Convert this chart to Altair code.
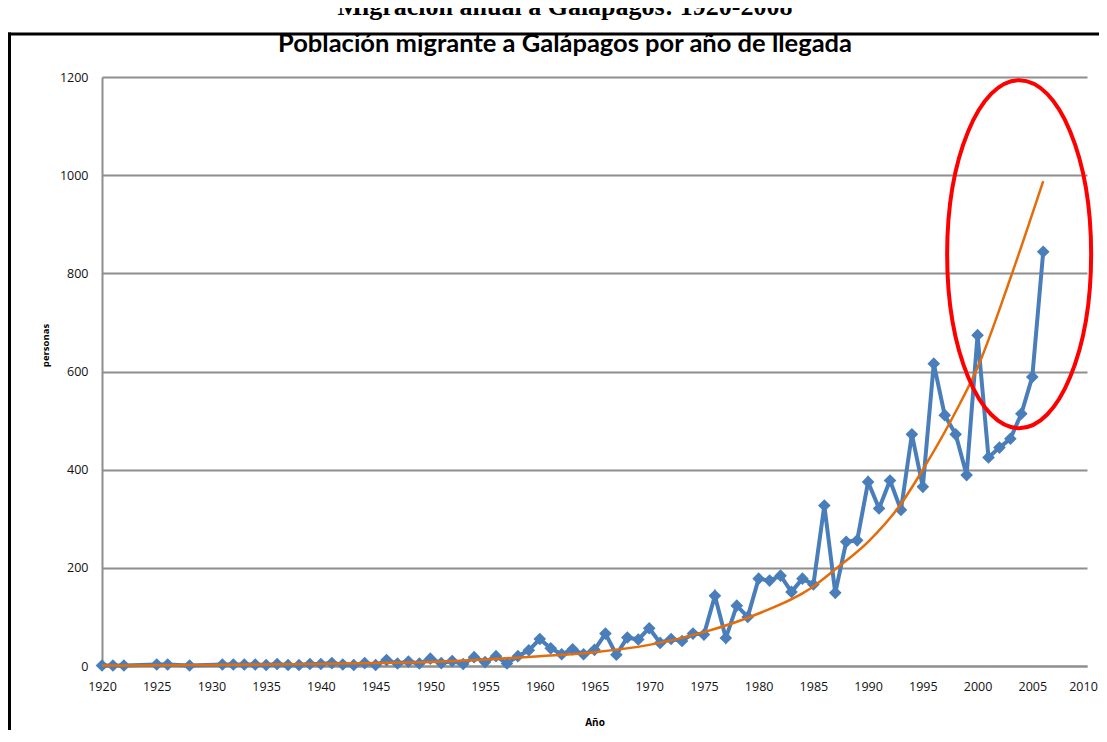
import altair as alt
import pandas as pd

# ---- data ----
years = [1920, 1921, 1922, 1925, 1926, 1928, 1931, 1932, 1933, 1934, 1935, 1936,
         1937, 1938, 1939, 1940, 1941, 1942, 1943, 1944, 1945, 1946, 1947, 1948,
         1949, 1950, 1951, 1952, 1953, 1954, 1955, 1956, 1957, 1958, 1959, 1960,
         1961, 1962, 1963, 1964, 1965, 1966, 1967, 1968, 1969, 1970, 1971, 1972,
         1973, 1974, 1975, 1976, 1977, 1978, 1979, 1980, 1981, 1982, 1983, 1984,
         1985, 1986, 1987, 1988, 1989, 1990, 1991, 1992, 1993, 1994, 1995, 1996,
         1997, 1998, 1999, 2000, 2001, 2002, 2003, 2004, 2005, 2006]
migrants = [1, 1, 1, 3, 3, 1, 3, 3, 3, 3, 2, 4,
            2, 2, 4, 4, 6, 3, 2, 6, 2, 12, 5, 9,
            5, 15, 6, 10, 4, 18, 8, 20, 5, 20, 32, 55,
            36, 24, 34, 24, 33, 66, 23, 58, 54, 77, 47, 55,
            51, 66, 64, 143, 57, 123, 100, 178, 174, 184, 151, 178,
            166, 327, 149, 253, 256, 375, 321, 378, 318, 472, 365, 616,
            511, 472, 389, 674, 425, 445, 463, 514, 589, 844]

trend_years = [1920, 1925, 1930, 1935, 1940, 1945, 1950, 1955, 1960, 1965, 1970,
               1975, 1980, 1985, 1987, 1990, 1993, 1995, 1998, 2000, 2003, 2006]
trend_values = [1, 1.5, 2, 3, 4.5, 6, 8, 13, 20, 28, 43,
                69, 107, 162, 197, 253, 330, 400, 518, 608, 790, 988]

x_ticks = list(range(1920, 2011, 5))
y_ticks = [0, 200, 400, 600, 800, 1000, 1200]

ellipse_year = [2003.8]
ellipse_value = [839]

chart_title = "Población migrante a Galápagos por año de llegada"
page_heading = "Migración anual a Galápagos: 1920-2008"
x_title = "Año"
y_title = "personas"

# ---- chart ----
W, H = 985, 589
BLUE = "#4A7EBB"
ORANGE = "#E46C0A"
GRID = "#8E8E8E"
LABEL_FONT = "Open Sans"

df = pd.DataFrame({"year": years, "value": migrants})
tdf = pd.DataFrame({"year": trend_years, "value": trend_values})
edf = pd.DataFrame({"year": ellipse_year, "value": ellipse_value})

xscale = alt.Scale(domain=[1920, 2010], nice=False, zero=False)
yscale = alt.Scale(domain=[0, 1200], nice=False)

x_axis = alt.Axis(values=x_ticks, format="d", title=x_title, grid=False, ticks=False,
                  domainColor=GRID, domainWidth=2, labelFlush=False,
                  labelOffset=alt.condition("datum.value == 2010", alt.value(-4), alt.value(0)),
                  labelFont=LABEL_FONT, labelFontSize=12.5, labelColor="#111",
                  labelPadding=14,
                  titleFont="Open Sans", titleFontSize=10, titleFontWeight="bold",
                  titleColor="#000", titleY=56, titleBaseline="middle")
y_axis = alt.Axis(values=y_ticks, format="d", title=y_title, grid=True, gridColor=GRID,
                  gridWidth=2, ticks=False, domainColor=GRID, domainWidth=2,
                  labelFlush=False,
                  labelFont=LABEL_FONT, labelFontSize=12.5, labelColor="#111",
                  labelPadding=14,
                  titleFont="Open Sans", titleFontSize=9.5, titleFontWeight="bold",
                  titleColor="#000", titleAngle=270, titleX=-57, titleY=268,
                  titleAlign="center", titleBaseline="middle")

X = alt.X("year:Q", scale=xscale, axis=x_axis)
Y = alt.Y("value:Q", scale=yscale, axis=y_axis)

blue = alt.Chart(df).mark_line(
    color=BLUE, strokeWidth=4,
    point=alt.OverlayMarkDef(shape="diamond", size=160, filled=True, color=BLUE, opacity=1)
).encode(x=X, y=Y)

trend = alt.Chart(tdf).mark_line(color=ORANGE, strokeWidth=2.5, interpolate="monotone").encode(
    x=X, y=Y)

rx = 72 / 174
k = 0.5523
ex = rx * k
ellipse_path = (
    f"M0,-1 C{ex:.4f},-1 {rx:.4f},-{k} {rx:.4f},0 "
    f"C{rx:.4f},{k} {ex:.4f},1 0,1 "
    f"C-{ex:.4f},1 -{rx:.4f},{k} -{rx:.4f},0 "
    f"C-{rx:.4f},-{k} -{ex:.4f},-1 0,-1 Z"
)
ellipse = alt.Chart(edf).mark_point(
    shape=ellipse_path, size=348 * 348, filled=False, stroke="#FF0000",
    strokeWidth=4, opacity=1
).encode(x=X, y=Y)

one = pd.DataFrame({"t": [chart_title]})
title_text = alt.Chart(one).mark_text(
    font="Lato", fontSize=25.5, fontWeight="bold", color="#000",
    align="center", baseline="alphabetic"
).encode(x=alt.value(463), y=alt.value(-25), text="t:N")

head = pd.DataFrame({"t": [page_heading]})
heading_text = alt.Chart(head).mark_text(
    font="Liberation Serif", fontSize=26, fontWeight="bold", color="#000",
    align="center", baseline="alphabetic"
).encode(x=alt.value(463), y=alt.value(-62), text="t:N")

frame_df = pd.DataFrame({"k": [0]})
top_border = alt.Chart(frame_df).mark_rule(color="#000", strokeWidth=3).encode(
    x=alt.value(-94), x2=alt.value(1020), y=alt.value(-43))
left_border = alt.Chart(frame_df).mark_rule(color="#000", strokeWidth=3).encode(
    x=alt.value(-92.5), y=alt.value(-44.5), y2=alt.value(700))

chart = alt.layer(
    blue, trend, ellipse, title_text, heading_text, top_border, left_border
).properties(
    width=W, height=H,
    autosize=alt.AutoSizeParams(type="none"),
    padding={"left": 94, "top": 69, "right": 12, "bottom": 64},
    background="white",
).configure_view(stroke=None)

chart.save("out.html", embed_options={"renderer": "svg", "actions": False})
